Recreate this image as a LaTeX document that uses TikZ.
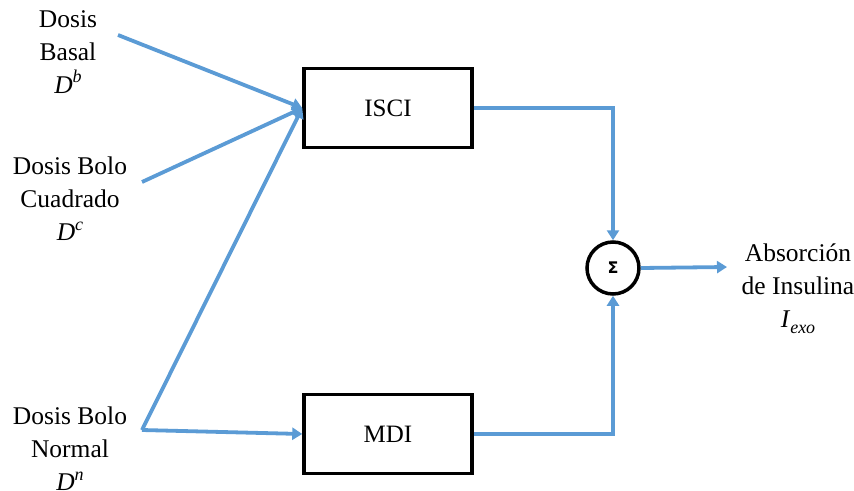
\documentclass[tikz,border=0pt]{standalone}
\usepackage{fontspec}
\setmainfont{Liberation Serif}
\newfontfamily\serif{Liberation Serif}
\newfontfamily\symfont{DejaVu Sans}
\usetikzlibrary{arrows.meta}
\definecolor{flow}{RGB}{91,155,213}
% italic symbol with raised / lowered index
\newcommand\supidx[2]{\textit{#1}\raisebox{0.42em}{\fontsize{18}{18}\selectfont\textit{#2}}}
\newcommand\subidx[2]{\textit{#1}\raisebox{-0.22em}{\fontsize{18}{18}\selectfont\textit{#2}}}
\begin{document}
\begin{tikzpicture}[x=1pt,y=-1pt,
  block/.style={draw=black,line width=3.5pt,minimum width=168pt,minimum height=79pt,font=\serif\fontsize{25}{28}\selectfont},
  summer/.style={circle,draw=black,line width=3.5pt,minimum size=52pt,inner sep=0pt},
  label/.style={align=center,font=\serif\fontsize{25.5}{33}\selectfont},
  wire/.style={draw=flow,line width=3.8pt},
  feed/.style={wire,-{Triangle[length=10pt,width=12pt]}}]
\useasboundingbox (0,0) rectangle (854,490);

% blocks and summing junction
\node[block] (isci) at (388,108) {ISCI};
\node[block] (mdi) at (388,434) {MDI};
\node[summer] (sum) at (613,268) {\symfont\bfseries\fontsize{16}{16}\selectfont Σ};

% input and output labels
\node[label] (basal) at (68,52) {Dosis\\Basal\\\supidx{D}{b}};
\node[label] (cuad) at (70,199) {Dosis Bolo\\Cuadrado\\\supidx{D}{c}};
\node[label] (norm) at (70,449) {Dosis Bolo\\Normal\\\supidx{D}{n}};
\node[label] (out) at (798,289) {Absorción\\de Insulina\\\subidx{I}{exo}};

% free ends of the input lines
\coordinate (b0) at (118,35);
\coordinate (c0) at (142,182);
\coordinate (n0) at (142,430);
\coordinate (o1) at (727,267);

% input connectors
\draw[feed] (b0) -- (isci.west);
\draw[feed] (c0) -- (isci.west);
\draw[feed] (n0) -- (isci.west);
\draw[feed] (n0) -- (mdi.west);

% block outputs into the summing junction
\draw[feed] (isci.east) -| (sum.north);
\draw[feed] (mdi.east) -| (sum.south);

% junction output
\draw[feed] (sum.east) -- (o1);
\end{tikzpicture}
\end{document}
